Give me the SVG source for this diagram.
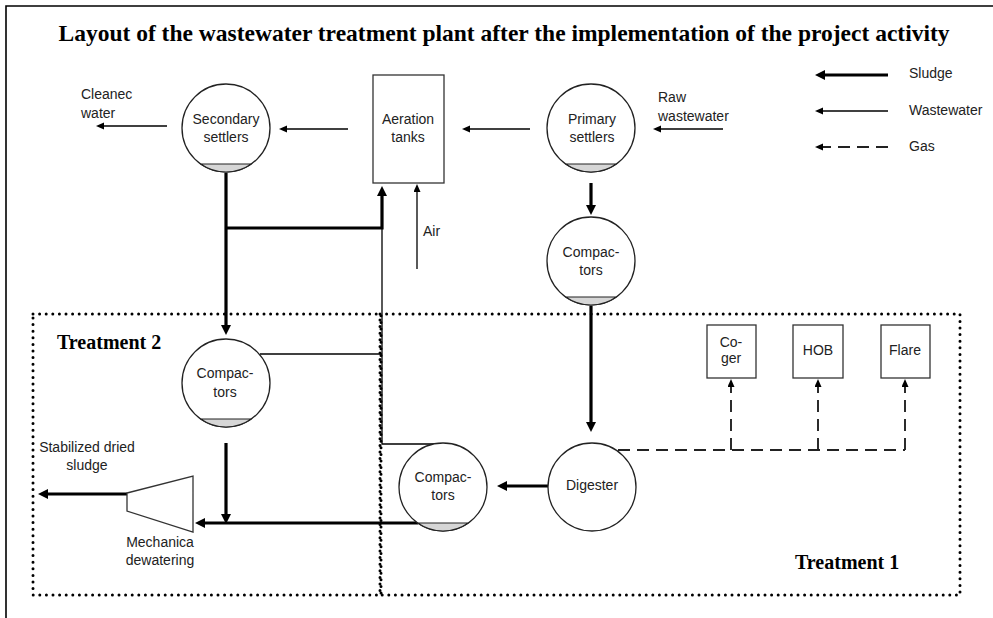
<svg xmlns="http://www.w3.org/2000/svg" width="993" height="618" viewBox="0 0 993 618">
<style>
.lbl{font-family:"Liberation Sans",Arial,sans-serif;font-size:14px;fill:#222}
.mid{text-anchor:middle}
.ttl{font-family:"Liberation Serif","Times New Roman",serif;font-weight:bold;font-size:23.5px;fill:#000}
.tank{fill:#fff;stroke:#222;stroke-width:1.3}
.sl{fill:#d6d6d6;stroke:#222;stroke-width:1.1}
.box{fill:#fff;stroke:#333;stroke-width:1.3}
.thin{fill:none;stroke:#000;stroke-width:1.3}
.thick{fill:none;stroke:#000;stroke-width:3.2}
.gas{fill:none;stroke:#222;stroke-width:1.9;stroke-dasharray:12 7}
.dot{fill:none;stroke:#000;stroke-width:3;stroke-linecap:round;stroke-dasharray:0 6.6}
</style>
<defs>
<marker id="ah" markerUnits="userSpaceOnUse" markerWidth="10" markerHeight="8" refX="2" refY="3.5" orient="auto"><path d="M0,0 L8,3.5 L0,7 z" fill="#000"/></marker>
<marker id="ahT" markerUnits="userSpaceOnUse" markerWidth="12" markerHeight="11" refX="3" refY="5" orient="auto"><path d="M0,0 L10,5 L0,10 z" fill="#000"/></marker>
<g id="tank"><circle class="tank" r="44"/><path class="sl" d="M25.3,36 A44,44 0 0 1 -25.3,36 Z"/></g>
</defs>
<rect width="993" height="618" fill="#fff"/>
<path d="M6,618 V6 H993" fill="none" stroke="#000" stroke-width="1.6"/>
<text class="ttl mid" x="504" y="41">Layout of the wastewater treatment plant after the implementation of the project activity</text>

<g id="zones">
<rect class="dot" x="33" y="314" width="348" height="281"/>
<rect class="dot" x="380" y="314" width="580" height="281"/>
<text class="ttl" x="57" y="349" style="font-size:20px">Treatment 2</text>
<text class="ttl" x="795" y="569" style="font-size:20px">Treatment 1</text>
</g>

<g id="connectors">
<line class="thin" x1="723" y1="129" x2="659" y2="129" marker-end="url(#ah)"/>
<line class="thin" x1="530" y1="129" x2="468" y2="129" marker-end="url(#ah)"/>
<line class="thin" x1="348" y1="129" x2="285" y2="129" marker-end="url(#ah)"/>
<line class="thin" x1="167" y1="126" x2="102" y2="126" marker-end="url(#ah)"/>
<line class="thin" x1="417" y1="269" x2="417" y2="190" marker-end="url(#ah)"/>
<path class="thin" d="M382,228 V444 H434"/>
<line class="thin" x1="260" y1="354" x2="382" y2="354"/>
<path class="thick" d="M226,173 V328" marker-end="url(#ahT)"/>
<path class="thick" d="M226,228 H382 V193" marker-end="url(#ahT)"/>
<line class="thick" x1="591" y1="183" x2="591" y2="208" marker-end="url(#ahT)"/>
<line class="thick" x1="591" y1="306" x2="591" y2="425" marker-end="url(#ahT)"/>
<line class="thick" x1="548" y1="486" x2="504" y2="486" marker-end="url(#ahT)"/>
<line class="thick" x1="418" y1="523" x2="202" y2="523" marker-end="url(#ahT)"/>
<line class="thick" x1="226" y1="443" x2="226" y2="517" marker-end="url(#ahT)"/>
<line class="thick" x1="127" y1="494" x2="45" y2="494" marker-end="url(#ahT)"/>
<path class="gas" d="M618,450 H905"/>
<line class="gas" x1="731" y1="450" x2="731" y2="385" marker-end="url(#ah)"/>
<line class="gas" x1="818" y1="450" x2="818" y2="385" marker-end="url(#ah)"/>
<line class="gas" x1="905" y1="450" x2="905" y2="385" marker-end="url(#ah)"/>
</g>

<g id="legend">
<line class="thick" x1="888" y1="75" x2="822" y2="75" marker-end="url(#ahT)"/>
<line class="thin" x1="888" y1="111" x2="821" y2="111" marker-end="url(#ah)"/>
<line class="gas" x1="888" y1="147" x2="821" y2="147" marker-end="url(#ah)"/>
<text class="lbl" x="909" y="78">Sludge</text>
<text class="lbl" x="909" y="115">Wastewater</text>
<text class="lbl" x="909" y="151">Gas</text>
</g>

<g id="secondary-settlers"><use href="#tank" x="226" y="128"/><text class="lbl mid" x="226" y="124">Secondary</text><text class="lbl mid" x="226" y="142">settlers</text></g>
<g id="aeration-tanks"><rect class="box" x="373" y="75" width="71" height="108"/><text class="lbl mid" x="408" y="124">Aeration</text><text class="lbl mid" x="408" y="142">tanks</text></g>
<g id="primary-settlers"><use href="#tank" x="591" y="128"/><text class="lbl mid" x="592" y="124">Primary</text><text class="lbl mid" x="592" y="142">settlers</text></g>
<g id="compactors-1"><use href="#tank" x="591" y="261"/><text class="lbl mid" x="591" y="257">Compac-</text><text class="lbl mid" x="591" y="275">tors</text></g>
<g id="compactors-2"><use href="#tank" x="226" y="383"/><text class="lbl mid" x="225" y="378">Compac-</text><text class="lbl mid" x="225" y="397">tors</text></g>
<g id="compactors-3"><use href="#tank" x="443" y="487"/><text class="lbl mid" x="443" y="482">Compac-</text><text class="lbl mid" x="443" y="500">tors</text></g>
<g id="digester"><circle class="tank" cx="592" cy="487" r="44"/><text class="lbl mid" x="592" y="490">Digester</text></g>
<g id="coger"><rect class="box" x="707" y="325" width="49" height="53"/><text class="lbl mid" x="731" y="347">Co-</text><text class="lbl mid" x="731" y="363">ger</text></g>
<g id="hob"><rect class="box" x="793" y="325" width="50" height="53"/><text class="lbl mid" x="818" y="355">HOB</text></g>
<g id="flare"><rect class="box" x="881" y="325" width="49" height="53"/><text class="lbl mid" x="905" y="355">Flare</text></g>
<g id="dewatering"><path class="box" d="M127,493 L193,476 L193,532 L127,511 Z"/><text class="lbl mid" x="160" y="547">Mechanica</text><text class="lbl mid" x="160" y="565">dewatering</text></g>
<g id="labels">
<text class="lbl" x="81" y="99">Cleanec</text><text class="lbl" x="81" y="118">water</text>
<text class="lbl" x="658" y="102">Raw</text><text class="lbl" x="658" y="121">wastewater</text>
<text class="lbl" x="423" y="236">Air</text>
<text class="lbl mid" x="87" y="452">Stabilized dried</text><text class="lbl mid" x="87" y="470">sludge</text>
</g>
</svg>
